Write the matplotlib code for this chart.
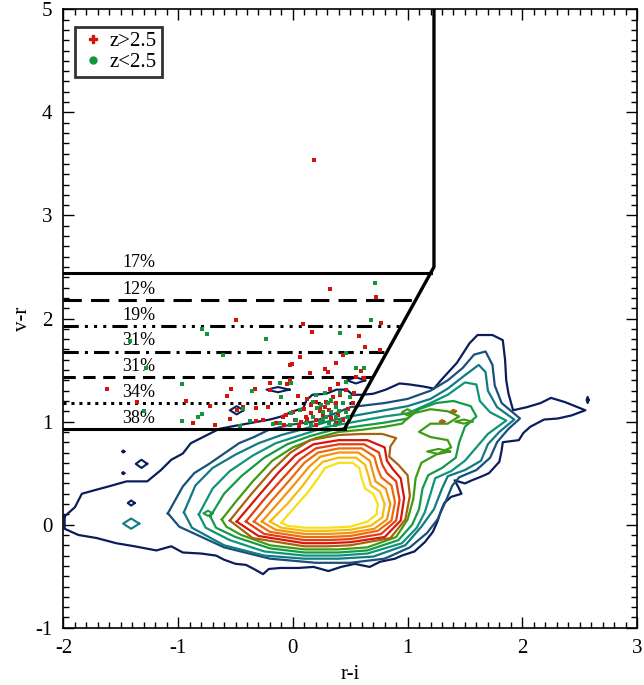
import numpy as np
import matplotlib.pyplot as plt
from matplotlib.lines import Line2D

plt.rcParams['font.family'] = ['Liberation Serif', 'DejaVu Serif']
plt.rcParams['axes.unicode_minus'] = False

# selection box: horizontal cuts, diagonal and vertical edge
cut_levels = [2.44, 2.18, 1.93, 1.68, 1.43, 1.18, 0.93]
cut_labels = ['17%', '12%', '19%', '31%', '31%', '34%', '38%']
cut_styles = ['-', (0, (6, 3)), (0, (5, 2, 1, 2, 1, 2, 1, 2)), (0, (5, 2, 1, 2)),
              (0, (4, 2.5)), (0, (1, 1.6)), '-']
diag_lo = (0.45, 0.93)
diag_hi = (1.23, 2.50)
vert_top = 5.0

# contour levels, outer -> inner
level_colors = ['#0b1e5b', '#1a4f7c', '#117a84', '#0f9478', '#149a48', '#3d9c14',
                '#a8620e', '#d6160c', '#e23e10', '#ec6a10', '#f29410', '#f4bc10', '#f6e01a']

c_navy = [(-1.99, 0.08), (-1.9, 0.17), (-1.84, 0.3), (-1.71, 0.34), (-1.61, 0.37), (-1.45, 0.42),
          (-1.27, 0.42), (-1.15, 0.53), (-1.06, 0.63), (-0.96, 0.69), (-0.89, 0.79), (-0.73, 0.88),
          (-0.64, 0.93), (-0.5, 0.96), (-0.4, 0.98), (-0.2, 1.02), (-0.1, 1.05), (0.0, 1.1),
          (0.09, 1.13), (0.12, 1.21), (0.17, 1.26), (0.29, 1.27), (0.38, 1.31), (0.47, 1.31),
          (0.52, 1.26), (0.6, 1.26), (0.7, 1.27), (0.81, 1.31), (0.93, 1.37), (1.02, 1.36),
          (1.14, 1.34), (1.23, 1.32), (1.29, 1.40), (1.43, 1.57), (1.54, 1.76), (1.61, 1.84),
          (1.74, 1.84), (1.83, 1.79), (1.85, 1.6), (1.86, 1.40), (1.88, 1.27), (1.92, 1.11),
          (2.04, 1.14), (2.16, 1.18), (2.25, 1.23), (2.37, 1.19), (2.55, 1.11), (2.43, 1.06),
          (2.31, 1.03), (2.19, 1.02), (2.07, 0.95), (2.01, 0.89), (1.97, 0.82), (1.83, 0.8),
          (1.82, 0.72), (1.8, 0.61), (1.71, 0.5), (1.65, 0.47), (1.56, 0.43), (1.5, 0.4),
          (1.41, 0.43), (1.44, 0.37), (1.47, 0.3), (1.38, 0.27), (1.32, 0.21), (1.29, 0.13),
          (1.26, 0.03), (1.22, -0.07), (1.15, -0.17), (1.06, -0.26), (0.95, -0.3), (0.89, -0.33),
          (0.76, -0.36), (0.67, -0.41), (0.54, -0.38), (0.42, -0.41), (0.31, -0.45), (0.18, -0.41),
          (0.05, -0.42), (-0.11, -0.42), (-0.21, -0.43), (-0.26, -0.48), (-0.34, -0.43),
          (-0.41, -0.39), (-0.5, -0.38), (-0.6, -0.34), (-0.67, -0.3), (-0.8, -0.28), (-0.96, -0.27),
          (-1.06, -0.21), (-1.19, -0.25), (-1.38, -0.21), (-1.54, -0.18), (-1.71, -0.13),
          (-1.87, -0.1), (-1.99, -0.04)]
c_dteal = [(-1.09, 0.11), (-0.96, 0.37), (-0.86, 0.5), (-0.73, 0.59), (-0.6, 0.69), (-0.47, 0.79),
           (-0.34, 0.85), (-0.21, 0.92), (-0.02, 0.97), (0.18, 1.0), (0.37, 1.08), (0.5, 1.14),
           (0.8, 1.18), (1.0, 1.22), (1.2, 1.3), (1.35, 1.4), (1.48, 1.52), (1.58, 1.65),
           (1.68, 1.68), (1.74, 1.55), (1.76, 1.35), (1.82, 1.18), (1.98, 1.03), (1.88, 0.93),
           (1.78, 0.8), (1.72, 0.65), (1.6, 0.53), (1.45, 0.46), (1.39, 0.38), (1.33, 0.22),
           (1.26, 0.05), (1.17, -0.08), (1.02, -0.22), (0.8, -0.33), (0.5, -0.37), (0.2, -0.37),
           (-0.2, -0.33), (-0.6, -0.22), (-0.99, -0.02)]
c_teal = [(-0.95, 0.12), (-0.85, 0.38), (-0.7, 0.55), (-0.5, 0.68), (-0.3, 0.79), (-0.1, 0.87),
          (0.1, 0.93), (0.3, 1.0), (0.5, 1.05), (0.75, 1.1), (1.0, 1.15), (1.2, 1.22),
          (1.35, 1.32), (1.5, 1.45), (1.62, 1.55), (1.68, 1.48), (1.7, 1.3), (1.78, 1.14),
          (1.93, 1.02), (1.8, 0.9), (1.7, 0.78), (1.64, 0.62), (1.5, 0.53), (1.35, 0.47),
          (1.3, 0.35), (1.23, 0.15), (1.12, -0.02), (0.98, -0.2), (0.7, -0.31), (0.4, -0.33),
          (0.1, -0.33), (-0.25, -0.3), (-0.6, -0.2), (-0.88, -0.03)]
c_tgreen = [(-0.82, 0.1), (-0.7, 0.35), (-0.55, 0.52), (-0.35, 0.67), (-0.15, 0.79), (0.1, 0.88),
            (0.3, 0.95), (0.55, 1.0), (0.8, 1.05), (1.0, 1.08), (1.2, 1.18), (1.35, 1.26),
            (1.5, 1.38), (1.6, 1.36), (1.63, 1.2), (1.72, 1.09), (1.86, 1.01), (1.7, 0.88),
            (1.6, 0.75), (1.5, 0.62), (1.38, 0.52), (1.24, 0.45), (1.2, 0.3), (1.15, 0.12),
            (1.08, -0.03), (0.95, -0.18), (0.65, -0.28), (0.4, -0.3), (0.1, -0.3), (-0.25, -0.26),
            (-0.55, -0.15), (-0.76, -0.03)]
c_green = [(-0.72, 0.08), (-0.6, 0.3), (-0.45, 0.47), (-0.25, 0.65), (-0.05, 0.78), (0.15, 0.86),
           (0.35, 0.92), (0.6, 0.96), (0.8, 0.99), (1.0, 1.03), (1.1, 1.12), (1.25, 1.18),
           (1.4, 1.2), (1.55, 1.15), (1.6, 1.05), (1.5, 0.95), (1.45, 0.8), (1.42, 0.65),
           (1.3, 0.55), (1.18, 0.48), (1.13, 0.35), (1.1, 0.15), (1.04, 0.0), (0.92, -0.15),
           (0.65, -0.25), (0.4, -0.27), (0.1, -0.27), (-0.2, -0.23), (-0.5, -0.12), (-0.67, -0.03)]
c_lgreen = [(-0.62, 0.05), (-0.5, 0.22), (-0.35, 0.42), (-0.18, 0.62), (0.0, 0.75), (0.2, 0.84),
            (0.4, 0.9), (0.6, 0.92), (0.8, 0.95), (0.95, 0.98), (1.05, 1.08), (1.2, 1.12),
            (1.35, 1.1), (1.45, 1.05), (1.35, 0.98), (1.2, 0.98), (1.1, 0.9), (1.2, 0.85),
            (1.35, 0.82), (1.38, 0.75), (1.25, 0.68), (1.12, 0.6), (1.07, 0.45), (1.05, 0.25),
            (1.0, 0.05), (0.9, -0.12), (0.65, -0.22), (0.4, -0.24), (0.1, -0.24), (-0.2, -0.2),
            (-0.45, -0.1), (-0.58, -0.02)]
c_brown = [(-0.55, 0.04), (-0.36, 0.3), (-0.18, 0.53), (-0.02, 0.7), (0.15, 0.82), (0.4, 0.87),
           (0.6, 0.88), (0.78, 0.88), (0.9, 0.84), (0.85, 0.76), (0.84, 0.66), (0.92, 0.58),
           (1.0, 0.48), (1.02, 0.28), (0.98, 0.05), (0.85, -0.13), (0.5, -0.2), (0.3, -0.21),
           (0.1, -0.21), (-0.35, -0.13)]
c_red = [(-0.49, 0.03), (-0.3, 0.28), (-0.13, 0.5), (0.02, 0.67), (0.18, 0.78), (0.4, 0.82),
         (0.65, 0.82), (0.8, 0.75), (0.82, 0.62), (0.87, 0.54), (0.94, 0.45), (0.97, 0.26),
         (0.94, 0.04), (0.8, -0.12), (0.5, -0.17), (0.3, -0.18), (0.1, -0.18), (-0.3, -0.11)]
c_rorange = [(-0.41, 0.03), (-0.24, 0.26), (-0.08, 0.46), (0.06, 0.63), (0.2, 0.74), (0.4, 0.78),
             (0.62, 0.78), (0.75, 0.7), (0.78, 0.58), (0.82, 0.5), (0.9, 0.42), (0.93, 0.24),
             (0.9, 0.04), (0.77, -0.09), (0.5, -0.14), (0.3, -0.15), (0.1, -0.15), (-0.25, -0.09)]
c_orange = [(-0.34, 0.03), (-0.18, 0.24), (-0.03, 0.43), (0.1, 0.6), (0.22, 0.7), (0.4, 0.74),
            (0.6, 0.74), (0.71, 0.66), (0.74, 0.54), (0.77, 0.46), (0.86, 0.38), (0.89, 0.22),
            (0.86, 0.04), (0.74, -0.06), (0.5, -0.11), (0.3, -0.12), (0.1, -0.12), (-0.2, -0.07)]
c_lorange = [(-0.27, 0.03), (-0.12, 0.22), (0.02, 0.4), (0.14, 0.56), (0.24, 0.66), (0.4, 0.7),
             (0.57, 0.7), (0.67, 0.62), (0.7, 0.5), (0.72, 0.42), (0.81, 0.35), (0.85, 0.2),
             (0.82, 0.05), (0.71, -0.04), (0.5, -0.08), (0.3, -0.09), (0.1, -0.09), (-0.15, -0.05)]
c_gold = [(-0.2, 0.03), (-0.05, 0.2), (0.08, 0.37), (0.18, 0.52), (0.26, 0.61), (0.4, 0.65),
          (0.55, 0.65), (0.63, 0.58), (0.66, 0.47), (0.68, 0.38), (0.76, 0.32), (0.8, 0.2),
          (0.78, 0.07), (0.68, -0.01), (0.5, -0.05), (0.3, -0.06), (0.1, -0.06), (-0.1, -0.03)]
c_yellow = [(-0.1, 0.02), (0.0, 0.15), (0.12, 0.3), (0.22, 0.45), (0.28, 0.55), (0.4, 0.6),
            (0.52, 0.6), (0.58, 0.55), (0.6, 0.45), (0.63, 0.35), (0.7, 0.3), (0.74, 0.2),
            (0.73, 0.1), (0.65, 0.03), (0.5, -0.02), (0.3, -0.03), (0.1, -0.03), (-0.05, -0.01)]
contours = [c_navy, c_dteal, c_teal, c_tgreen, c_green, c_lgreen, c_brown, c_red,
            c_rorange, c_orange, c_lorange, c_gold, c_yellow]

# small isolated contour islands: (x, y, w, h, level index)
islands = [(-0.13, 1.31, 0.2, 0.05, 0), (0.55, 1.40, 0.16, 0.06, 0), (-0.49, 1.11, 0.12, 0.08, 0),
           (-1.32, 0.59, 0.1, 0.08, 0), (-1.41, 0.01, 0.14, 0.1, 2), (-1.41, 0.21, 0.06, 0.05, 0),
           (-0.74, 0.11, 0.08, 0.05, 4), (1.0, 1.09, 0.1, 0.06, 5), (1.49, 1.0, 0.15, 0.04, 5),
           (1.27, 0.71, 0.2, 0.05, 5), (1.4, 1.1, 0.04, 0.03, 6), (1.3, 1.0, 0.04, 0.03, 6),
           (2.57, 1.21, 0.02, 0.06, 0), (-1.48, 0.71, 0.02, 0.02, 0), (-1.48, 0.5, 0.02, 0.02, 0)]

# quasar candidates
red_x = [0.18, 0.325, 0.726, -0.499, 0.769, 0.087, 0.169, 0.575, 0.763, -1.624, -1.363, -0.928,
         0.633, 0.436, 0.058, -0.005, -0.029, 0.377, 0.276, 0.305, 0.145, 0.595, 0.552, 0.624,
         -0.029, -0.203, -0.052, 0.392, 0.325, 0.465, 0.537, -0.536, -0.574, -0.333, -0.203,
         0.044, 0.125, 0.203, 0.29, 0.372, 0.523, -0.725, -0.487, -0.319, -0.217, -0.435, -0.87,
         -0.681, -0.551, -0.319, -0.261, -0.087, -0.058, 0.0, 0.015, 0.073, 0.116, 0.16, 0.203,
         0.261, 0.334, 0.392, 0.436, 0.232, 0.314, 0.16, 0.349, 0.407, 0.479, -0.081, -0.15,
         0.05, 0.1, 0.2, 0.28, 0.38, 0.12, 0.24, 0.33]
red_y = [3.54, 2.289, 2.205, 1.982, 1.953, 1.946, 1.866, 1.83, 1.694, 1.313, 1.193, 1.203,
         1.726, 1.645, 1.63, 1.558, 1.548, 1.565, 1.506, 1.477, 1.468, 1.49, 1.435, 1.419,
         1.403, 1.371, 1.364, 1.364, 1.312, 1.306, 1.28, 1.312, 1.248, 1.312, 1.306,
         1.248, 1.215, 1.193, 1.193, 1.177, 1.183, 1.151, 1.112, 1.128, 1.144, 1.144, 0.989,
         0.966, 1.021, 1.005, 1.015, 1.041, 1.063, 1.096, 1.015, 0.999, 1.047, 1.08, 1.015,
         1.063, 1.031, 1.063, 1.015, 1.128, 1.112, 1.16, 1.241, 1.257, 1.118, 0.966, 0.989,
         0.96, 1.12, 0.97, 1.14, 0.99, 1.03, 1.1, 1.2]
green_x = [0.717, 0.682, -0.789, -0.751, -1.421, -0.238, 0.412, -0.609, -1.282, 0.465, -0.963,
           -1.3, -0.971, 0.546, 0.624, 0.465, -0.116, -0.014, -0.354, -0.101, -0.435, -0.789,
           -0.826, 0.203, 0.276, 0.407, 0.494, 0.174, 0.247, 0.305, 0.377, 0.436, 0.261, 0.29,
           0.334, 0.377, 0.407, 0.319, 0.232, 0.174, 0.116, -0.014, 0.058, -0.029, -0.116,
           -0.174, -0.377, -0.464, 0.459, 0.479, 0.363, 0.16, 0.029, 0.21, 0.33, 0.26, 0.4]
green_y = [2.341, 1.985, 1.895, 1.853, 1.785, 1.798, 1.862, 1.642, 1.52, 1.662, 1.364,
           1.099, 1.009, 1.516, 1.516, 1.387, 1.371, 1.371, 1.3, 1.235, 1.118, 1.073,
           1.041, 1.257, 1.274, 1.274, 1.241, 1.193, 1.16, 1.177, 1.144, 1.177, 1.096, 1.047,
           1.096, 1.047, 0.999, 0.982, 0.999, 1.047, 0.982, 1.086, 1.112, 0.966, 0.982,
           0.976, 1.005, 0.957, 1.096, 1.047, 0.966, 0.966, 1.015, 1.13, 1.21, 1.02, 1.1]

fig = plt.figure(figsize=(6.44, 6.85), dpi=100)
ax = fig.add_axes([0.0986, 0.0836, 0.8905, 0.9028])

for pts, col in zip(contours, level_colors):
    p = np.array(pts + [pts[0]])
    ax.plot(p[:, 0], p[:, 1], color=col, lw=1.6, solid_joinstyle='round')

t = np.linspace(0, 2 * np.pi, 5)
for x0, y0, w, h, k in islands:
    ax.plot(x0 + w / 2 * np.cos(t), y0 + h / 2 * np.sin(t), color=level_colors[k], lw=1.5)

ax.scatter(red_x, red_y, s=10, marker='s', color='#d4140c', lw=0, zorder=4)
ax.scatter(green_x, green_y, s=10, marker='s', color='#12963a', lw=0, zorder=4)

# horizontal cuts end on the diagonal edge
slope = (diag_hi[1] - diag_lo[1]) / (diag_hi[0] - diag_lo[0])
for yl, lab, ls in zip(cut_levels, cut_labels, cut_styles):
    xe = diag_lo[0] + (yl - diag_lo[1]) / slope
    ax.plot([-2, xe], [yl, yl], color='black', lw=2.2, linestyle=ls, zorder=3)
    ax.text(-1.49, yl + 0.02, lab, fontsize=13, ha='left', va='bottom')
ax.plot([diag_lo[0], diag_hi[0], diag_hi[0]], [diag_lo[1], diag_hi[1], vert_top],
        color='black', lw=2.4, zorder=3)

ax.set_xlim(-2, 3)
ax.set_ylim(-1, 5)
ax.set_xticks(range(-2, 4))
ax.set_yticks(range(-1, 6))
ax.set_xticks(np.arange(-2, 3.01, 0.1), minor=True)
ax.set_yticks(np.arange(-1, 5.01, 0.1), minor=True)
ax.tick_params(which='both', direction='in', top=True, right=True, labelsize=15, width=1)
ax.tick_params(which='major', length=8, pad=8)
ax.tick_params(which='minor', length=4.5)
for s in ax.spines.values():
    s.set_linewidth(1.2)
ax.set_xlabel('r-i', fontsize=15, labelpad=5)
ax.set_ylabel('v-r', fontsize=15, labelpad=2)

handles = [Line2D([], [], marker='P', color='#d4140c', ls='', ms=6),
           Line2D([], [], marker='o', color='#12963a', ls='', ms=5)]
leg = ax.legend(handles, ['z>2.5', 'z<2.5'], loc='upper left', bbox_to_anchor=(0.02, 0.972),
                fontsize=15, frameon=True, fancybox=False, handletextpad=0.2,
                handlelength=1.2, borderpad=0.25, labelspacing=0.05, borderaxespad=0)
leg.get_frame().set_edgecolor('black')
leg.get_frame().set_linewidth(2)

fig.savefig('out.png', dpi=100)
